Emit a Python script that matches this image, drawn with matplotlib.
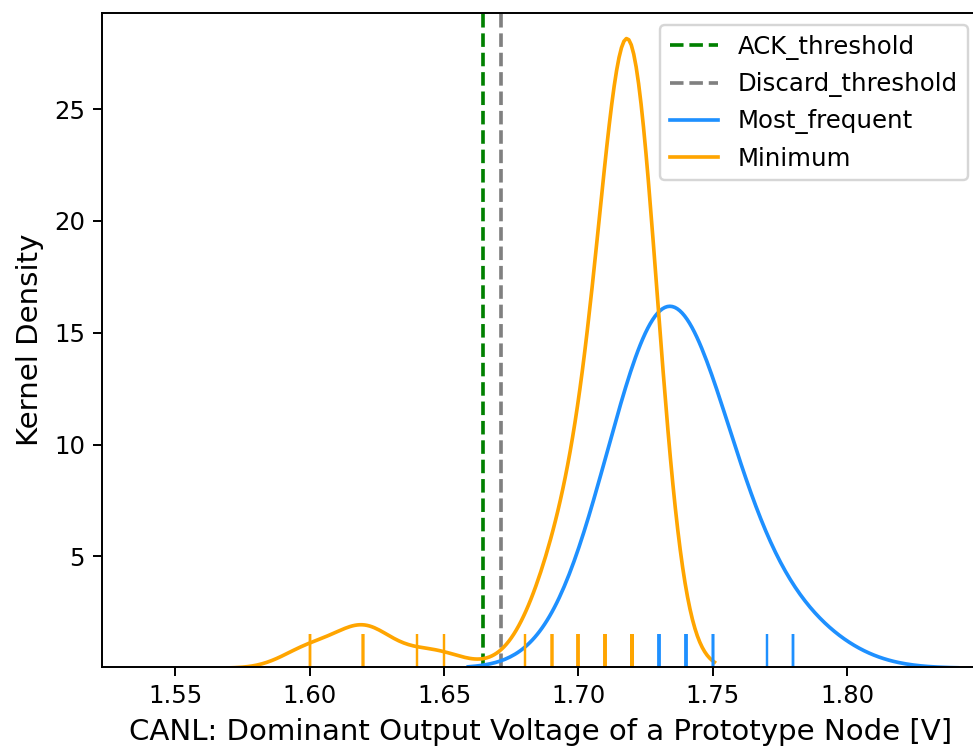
import numpy as np
import matplotlib
matplotlib.use("Agg")
import matplotlib.pyplot as plt
import seaborn as sns

# measured voltages (V) and how often each value occurs
minimum_values = [1.60, 1.62, 1.64, 1.65, 1.68, 1.69, 1.70, 1.71, 1.72]
minimum_counts = [2, 4, 1, 1, 1, 5, 9, 12, 55]

most_frequent_values = [1.72, 1.73, 1.74, 1.75, 1.77, 1.78]
most_frequent_counts = [6, 9, 9, 3, 1, 2]

ack_threshold = 1.6644
discard_threshold = 1.6711

minimum = np.repeat(minimum_values, minimum_counts)
most_frequent = np.repeat(most_frequent_values, most_frequent_counts)

dpi = 175.5
fig = plt.figure(figsize=(973 / dpi, 747 / dpi), dpi=dpi)
# right edge of the axes sits just past the picture, as in the cropped original
ax = fig.add_axes([102 / 973, 1 - 667 / 747, 878 / 973, 654 / 747])

ax.axvline(ack_threshold, color="green", linestyle="--", label="ACK_threshold")
ax.axvline(discard_threshold, color="gray", linestyle="--", label="Discard_threshold")

sns.kdeplot(x=most_frequent, ax=ax, color="dodgerblue", bw_adjust=2.49,
            label="Most_frequent")
sns.kdeplot(x=minimum, ax=ax, color="orange", bw_adjust=0.877,
            label="Minimum")

sns.rugplot(x=most_frequent, ax=ax, color="dodgerblue", height=0.05)
sns.rugplot(x=minimum, ax=ax, color="orange", height=0.05)

ax.set_xlim(1.5227, 1.8494)
ax.set_ylim(0.05, 29.3)
ax.set_xlabel("CANL: Dominant Output Voltage of a Prototype Node [V]", fontsize=12)
ax.set_ylabel("Kernel Density", fontsize=12)
ax.legend(loc="upper right")

fig.savefig("out.png", dpi=dpi)
plt.close(fig)
